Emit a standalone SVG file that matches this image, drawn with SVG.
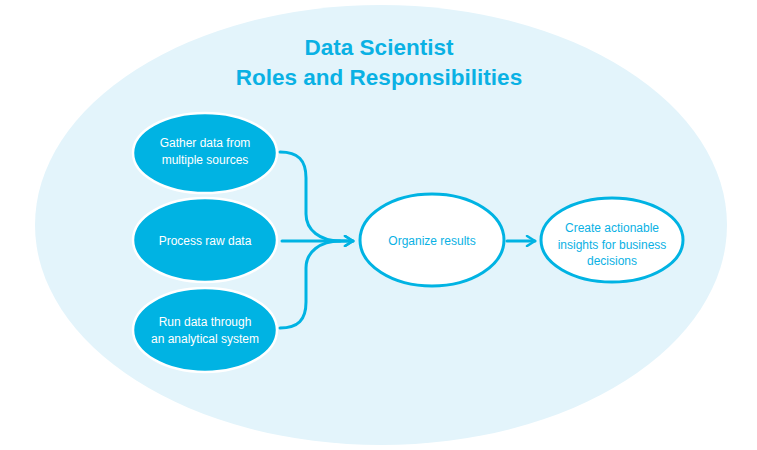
<svg xmlns="http://www.w3.org/2000/svg" width="757" height="450" viewBox="0 0 757 450">
<defs>
<style>
.title{font-family:"Liberation Sans",Arial,sans-serif;font-weight:bold;font-size:22.5px;fill:#0AB1E4;text-anchor:middle}
.fill{fill:#00B3E3;stroke:#FFFFFF;stroke-width:2.5}
.out{fill:#FFFFFF;stroke:#00B3E3;stroke-width:3}
.wt{font-family:"Liberation Sans",Arial,sans-serif;font-size:12px;fill:#FFFFFF;text-anchor:middle}
.bt{font-family:"Liberation Sans",Arial,sans-serif;font-size:12px;fill:#0AB1E4;text-anchor:middle}
.conn{fill:none;stroke:#00B3E3;stroke-width:3;stroke-linecap:round;stroke-linejoin:round}
</style>
<marker id="arr" viewBox="0 0 12 12" refX="10" refY="6" markerWidth="12" markerHeight="12" markerUnits="userSpaceOnUse" orient="auto">
<path d="M2,1 L10,6 L2,11" fill="none" stroke="#00B3E3" stroke-width="2.5" stroke-linecap="round" stroke-linejoin="round"/>
</marker>
</defs>
<rect width="757" height="450" fill="#FFFFFF"/>
<ellipse cx="381" cy="225" rx="346" ry="220" fill="#E3F4FB"/>
<g id="title">
<text class="title" x="379" y="55">Data Scientist</text>
<text class="title" x="379" y="85">Roles and Responsibilities</text>
</g>
<g id="connectors">
<path class="conn" d="M280,152 C298,152 306,160 306,178 L306,214 C306,230 320,241 340,241 L353,241" marker-end="url(#arr)"/>
<path class="conn" d="M282,241 L353,241" marker-end="url(#arr)"/>
<path class="conn" d="M280,328 C298,328 306,320 306,302 L306,268 C306,252 320,241 340,241"/>
<path class="conn" d="M507,241 L535,241" marker-end="url(#arr)"/>
</g>
<g id="gather">
<ellipse class="fill" cx="205" cy="153" rx="72" ry="40"/>
<text class="wt" x="205" y="147">Gather data from</text>
<text class="wt" x="205" y="164">multiple sources</text>
</g>
<g id="process">
<ellipse class="fill" cx="205" cy="240" rx="72" ry="42"/>
<text class="wt" x="205" y="245">Process raw data</text>
</g>
<g id="run">
<ellipse class="fill" cx="205" cy="330" rx="72" ry="42"/>
<text class="wt" x="205" y="326">Run data through</text>
<text class="wt" x="205" y="343">an analytical system</text>
</g>
<g id="organize">
<ellipse class="out" cx="432" cy="240" rx="72" ry="46"/>
<text class="bt" x="432" y="245">Organize results</text>
</g>
<g id="create">
<ellipse class="out" cx="612" cy="240" rx="71" ry="42"/>
<text class="bt" x="612" y="232">Create actionable</text>
<text class="bt" x="612" y="249">insights for business</text>
<text class="bt" x="612" y="265">decisions</text>
</g>
</svg>
